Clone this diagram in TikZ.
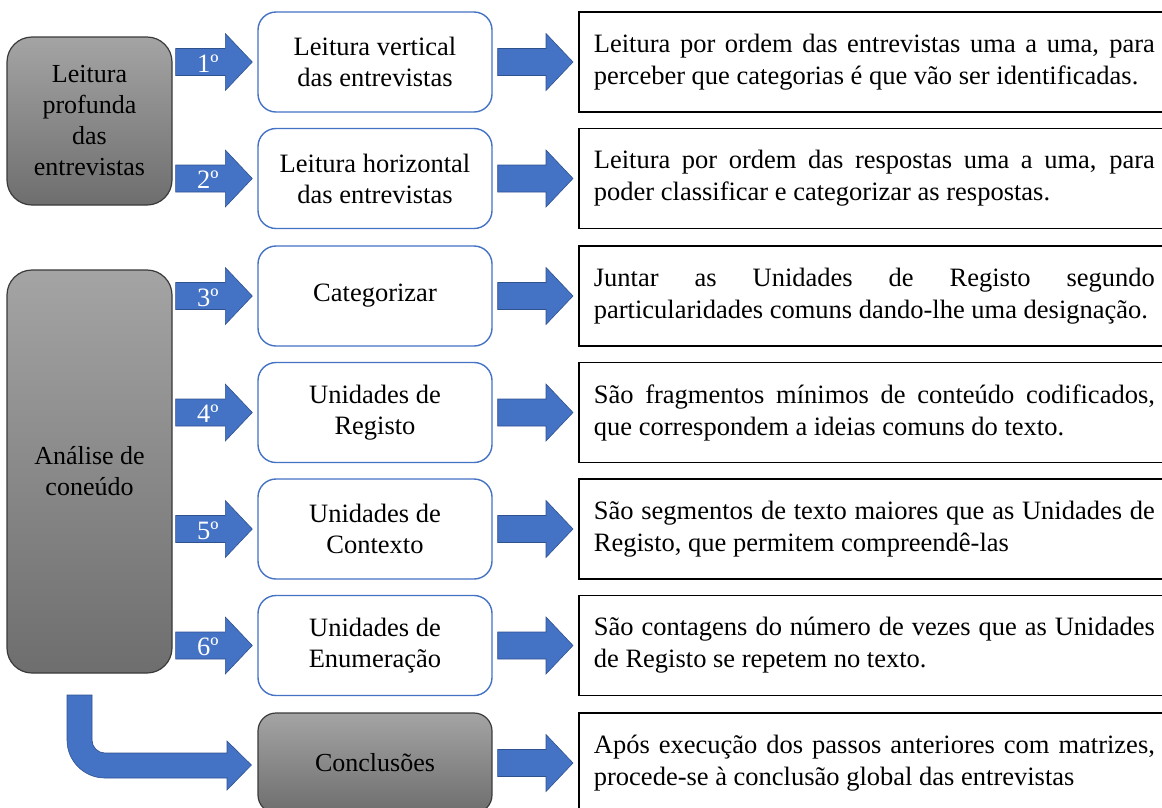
\documentclass[tikz,border=0pt]{standalone}
\usepackage{fontspec}
\setmainfont{Liberation Serif}
\usetikzlibrary{calc}
\definecolor{stepblue}{HTML}{4472C4}
\definecolor{stepedge}{HTML}{2F528F}
\definecolor{graytop}{HTML}{A4A4A4}
\definecolor{graybot}{HTML}{6E6E6E}
\definecolor{grayedge}{HTML}{3A3A3A}
\newcommand{\blockarrow}[3][]{%
	\path[blockfill] let \p1=(#2), \p2=(#3) in
		(\x1,\y1+13.5pt) -- (\x2-27pt,\y1+13.5pt) -- (\x2-27pt,\y1+28.5pt) -- (\x2,\y1)
		-- (\x2-27pt,\y1-28.5pt) -- (\x2-27pt,\y1-13.5pt) -- (\x1,\y1-13.5pt) -- cycle;
	\if\relax\detokenize{#1}\relax\else
		\node[steplabel] at ($(#2)!0.42!(#3)+(0,10)$) {#1};
	\fi}

\begin{document}
\begin{tikzpicture}[x=1pt,y=-1pt,
	graybox/.style={draw=grayedge, line width=1.2pt, rounded corners=25pt, top color=graytop, bottom color=graybot, align=center, font=\fontsize{26}{31}\selectfont},
	stepbox/.style={draw=stepblue, line width=1.4pt, fill=white, rounded corners=18pt, minimum width=234pt, minimum height=100pt, align=center, font=\fontsize{26.5}{31}\selectfont},
	textbox/.style={draw=black, line width=1.8pt, fill=white, minimum height=100pt, text width=561pt, inner xsep=15pt, align=justify, anchor=west, font=\fontsize{26.5}{32}\selectfont},
	blockfill/.style={fill=stepblue, draw=stepedge, line width=0.6pt},
	steplabel/.style={text=white, anchor=base, font=\fontsize{26.5}{26.5}\selectfont}]
	\useasboundingbox (0,0) rectangle (1162,807);
	\clip (0,0) rectangle (1162,807);

	\node[graybox, minimum width=165pt, minimum height=168pt] (lp) at (89.5,121) {Leitura\\profunda\\das\\entrevistas};
	\node[graybox, minimum width=165pt, minimum height=403pt] (an) at (89.5,471.5) {Análise de\\coneúdo};

	\node[stepbox] (v1) at (375,62) {Leitura vertical\\das entrevistas};
	\node[stepbox] (v2) at (375,178.5) {Leitura horizontal\\das entrevistas};
	\node[stepbox] (v3) at (375,296) {Categorizar};
	\node[stepbox] (v4) at (375,412.5) {Unidades de\\Registo};
	\node[stepbox] (v5) at (375,529) {Unidades de\\Contexto};
	\node[stepbox] (v6) at (375,645.5) {Unidades de\\Enumeração};
	\node[stepbox, graybox, rounded corners=18pt, minimum width=234pt, minimum height=100pt] (concl) at (375,763) {Conclusões};

	\node[textbox] (d1) at (578,62) {Leitura por ordem das entrevistas uma a uma, para\linebreak perceber que categorias é que vão ser identificadas.};
	\node[textbox] (d2) at (578,178.5) {Leitura por ordem das respostas uma a uma, para\linebreak poder classificar e categorizar as respostas.};
	\node[textbox] (d3) at (578,296) {Juntar as Unidades de Registo segundo\linebreak particularidades comuns dando-lhe uma designação.};
	\node[textbox] (d4) at (578,412.5) {São fragmentos mínimos de conteúdo codificados,\linebreak que correspondem a ideias comuns do texto.};
	\node[textbox] (d5) at (578,529) {São segmentos de texto maiores que as Unidades de\linebreak Registo, que permitem compreendê-las};
	\node[textbox] (d6) at (578,645.5) {São contagens do número de vezes que as Unidades\linebreak de Registo se repetem no texto.};
	\node[textbox] (d7) at (578,763) {Após execução dos passos anteriores com matrizes,\linebreak procede-se à conclusão global das entrevistas};

	\blockarrow[1º]{$(lp.east |- v1.west)+(3,0)$}{$(v1.west)+(-5,0)$}
	\blockarrow[2º]{$(lp.east |- v2.west)+(3,0)$}{$(v2.west)+(-5,0)$}
	\blockarrow[3º]{$(an.east |- v3.west)+(3,0)$}{$(v3.west)+(-5,0)$}
	\blockarrow[4º]{$(an.east |- v4.west)+(3,0)$}{$(v4.west)+(-5,0)$}
	\blockarrow[5º]{$(an.east |- v5.west)+(3,0)$}{$(v5.west)+(-5,0)$}
	\blockarrow[6º]{$(an.east |- v6.west)+(3,0)$}{$(v6.west)+(-5,0)$}

	\blockarrow{$(v1.east)+(5,0)$}{$(d1.west)+(-5,0)$}
	\blockarrow{$(v2.east)+(5,0)$}{$(d2.west)+(-5,0)$}
	\blockarrow{$(v3.east)+(5,0)$}{$(d3.west)+(-5,0)$}
	\blockarrow{$(v4.east)+(5,0)$}{$(d4.west)+(-5,0)$}
	\blockarrow{$(v5.east)+(5,0)$}{$(d5.west)+(-5,0)$}
	\blockarrow{$(v6.east)+(5,0)$}{$(d6.west)+(-5,0)$}
	\blockarrow{$(concl.east)+(5,0)$}{$(d7.west)+(-5,0)$}

	\coordinate (btip) at ($(concl.west)+(-6,2)$);
	\path[blockfill] (67,695) -- (67,740) arc (180:270:38pt) -- (227,778) -- (227,790) -- (btip)
		-- (227,741) -- (227,753) -- (105,753) arc (270:180:13pt) -- (92,695) -- cycle;
\end{tikzpicture}
\end{document}
